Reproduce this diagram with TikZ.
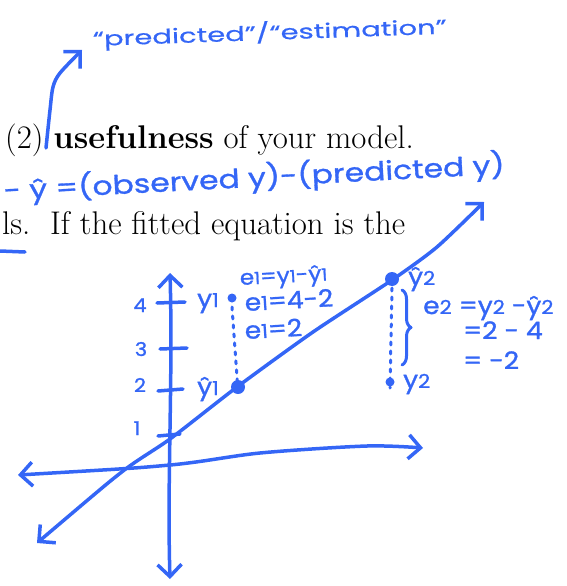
\documentclass[tikz,border=0pt]{standalone}
\usepackage{fontspec}
\usepackage{graphicx}
\newfontfamily\handfont[FakeStretch=1.45, FakeBold=0.6]{Poppins}
\newfontfamily\notefont[FakeStretch=1.21, FakeBold=1.2]{Poppins}
\newfontfamily\plotfont[FakeStretch=1.1, FakeBold=1.2]{Poppins}
\usetikzlibrary{arrows.meta, decorations.pathreplacing}
\definecolor{pen}{RGB}{52,102,246}
\newcommand{\ix}[1]{\scalebox{0.8}{#1}}

\begin{document}
\begin{tikzpicture}[x=1pt, y=-1pt, line cap=round, line join=round,
    >={Straight Barb[length=12pt, width=24pt]},
    ink/.style={draw=pen, line width=3.5pt},
    guide/.style={draw=pen, line width=3pt, dash pattern=on 3pt off 6pt},
    hand/.style={text=pen, font=\plotfont\fontsize{24}{28}\selectfont, inner sep=0pt, anchor=base west},
    tick/.style={hand, anchor=base, font=\plotfont\fontsize{19}{22}\selectfont},
    book/.style={font=\fontsize{32.8}{38}\selectfont, inner sep=0pt, anchor=base west}]
    \useasboundingbox (0,0) rectangle (566,586);

    % ==================== printed text ====================
    \node[book] (line1) at (5,148) {(2) \textbf{usefulness} of your model.};
    \node[book] (line2) at (2,234) {ls.\ \ If the fitted equation is the};

    % ==================== notes on top ====================
    \node[hand, font=\handfont\fontsize{20}{24}\selectfont, rotate=2] (name) at (93,46) {“predicted”/“estimation”};
    \coordinate (tail) at (46,148);
    \coordinate (head) at (82,50);
    \draw[ink, ->] plot[smooth] coordinates {(tail) (50,110) (53,87) (60,73) (head)};

    \node[hand, font=\notefont\fontsize{26}{30}\selectfont, rotate=3] (resid) at (4,200) {- \^{y} =(observed y)-(predicted y)};
    \draw[ink] (0,251) -- (25,252);

    % ==================== axes ====================
    \draw[ink, <->] plot[smooth, tension=0.5] coordinates {(18,475) (170,465) (260,453) (367,446) (423,448)};
    \draw[ink, <->] (170,579) .. controls (167,480) and (173,380) .. (170,273);

    % ticks
    \draw[ink] (157,303) -- (185,302);
    \draw[ink] (160,349) -- (187,348);
    \draw[ink] (158,391) -- (183,389);
    \draw[ink] (158,436) -- (180,434);
    \node[tick] (t4) at (140,312) {4};
    \node[tick] (t3) at (141,356) {3};
    \node[tick] (t2) at (140,392) {2};
    \node[tick] (t1) at (137,435) {1};

    % ==================== fitted line ====================
    \draw[ink, <->] plot[smooth, tension=0.4] coordinates {(37,543) (123,471) (170,439) (237,387) (313,332) (392,280) (437,247) (484,202)};

    % points
    \coordinate (y1) at (232,298);
    \coordinate (yh1) at (238,387);
    \coordinate (yh2) at (392,279);
    \coordinate (y2) at (390,382);
    \fill[pen] (y1) circle (4.5pt);
    \fill[pen] (yh1) circle (7pt);
    \fill[pen] (yh2) circle (7pt);
    \fill[pen] (y2) circle (4.5pt);
    \draw[guide] (y1) ++(0,9) -- ([yshift=-4pt]yh1);
    \draw[guide] (yh2) ++(0,9) -- ([yshift=-6pt]y2);
    \draw[ink, line width=3pt, decorate, decoration={brace, amplitude=9pt}] (402,290) -- (402,365);

    % ==================== residual notes ====================
    \node[hand] (ly1) at (197,307) {y\ix{1}};
    \node[hand] (lyh1) at (197,395) {\^{y}\ix{1}};
    \node[hand, font=\plotfont\fontsize{21}{25}\selectfont, rotate=3] (e1a) at (240,285) {e\ix{1}=y\ix{1}-\^{y}\ix{1}};
    \node[hand, rotate=3] (e1b) at (245,311) {e\ix{1}=4-2};
    \node[hand, rotate=3] (e1c) at (245,339) {e\ix{1}=2};
    \node[hand] (lyh2) at (408,285) {\^{y}\ix{2}};
    \node[hand] (ly2) at (403,388) {y\ix{2}};
    \node[hand] (e2a) at (423,314) {e\ix{2} =y\ix{2} -\^{y}\ix{2}};
    \node[hand] (e2b) at (463,339) {=2 - 4};
    \node[hand] (e2c) at (463,369) {= -2};
\end{tikzpicture}
\end{document}
